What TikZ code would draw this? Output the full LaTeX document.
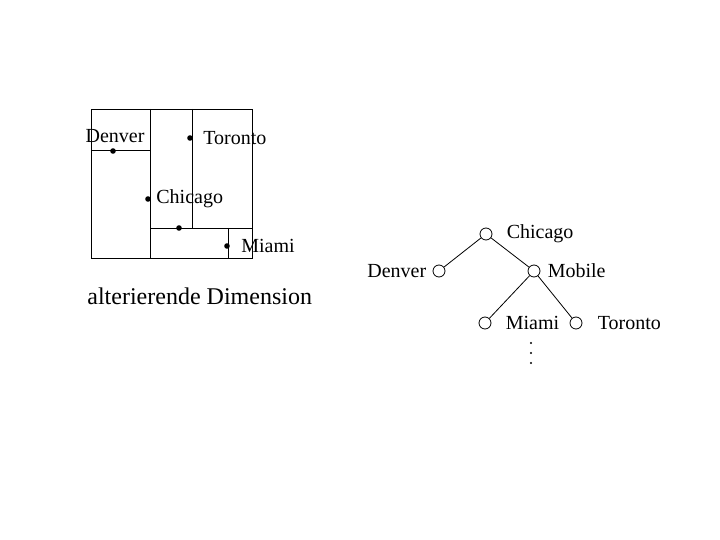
\documentclass[tikz,border=0pt]{standalone}
\usepackage{fontspec}
\setmainfont{Liberation Serif}
\usetikzlibrary{positioning}

\begin{document}
\begin{tikzpicture}[x=1pt,y=-1pt,line width=0.8pt,
  lbl/.style={font=\fontsize{20}{24}\selectfont,inner sep=0pt},
  knot/.style={circle,draw,minimum size=12pt,inner sep=0pt}]
  \useasboundingbox (0,0) rectangle (720,540);
  % partition of the plane
  \draw (91,109) rectangle (252,258);
  \draw (150,109)--(150,258); \draw (91,150)--(150,150);
  \draw (192,109)--(192,228); \draw (150,228)--(252,228); \draw (228,228)--(228,258);
  \coordinate (pden) at (113,151);\coordinate (ptor) at (190,138);\coordinate (pchi) at (148,199);
  \coordinate (pmob) at (179,228);\coordinate (pmia) at (227,246);
  \foreach \p in {pden,ptor,pchi,pmob,pmia} \fill (\p) circle (2.8pt);
  \node[lbl] (lden) at (115,136) {Denver};
  \node[lbl,anchor=west] (ltor) at (203,138) {Toronto};
  \node[lbl,anchor=west] (lchi) at (156,199) {Chicago};
  \node[lbl,anchor=west] (lmia) at (241,246) {Miami};
  \node[lbl,font=\fontsize{24}{28}\selectfont,anchor=west] (dim) at (87,296) {alterierende Dimension};
  % tree
  \node[knot] (tchi) at (486,234) {}; \node[lbl,right=14pt of tchi] {Chicago};
  \node[knot] (tden) at (439,271) {}; \node[lbl,left=6pt of tden] {Denver};
  \node[knot] (tmob) at (534,271) {}; \node[lbl,right=7pt of tmob] {Mobile};
  \node[knot] (tmia) at (485,323) {}; \node[lbl,right=14pt of tmia] {Miami};
  \node[knot] (ttor) at (576,323) {}; \node[lbl,right=15pt of ttor] {Toronto};
  \draw (tchi)--(tden); \draw (tchi)--(tmob);
  \draw (tmob)--(tmia); \draw (tmob)--(ttor);
  \foreach \y in {343,353,363} \fill (531,\y) circle (1.2pt);
\end{tikzpicture}
\end{document}
